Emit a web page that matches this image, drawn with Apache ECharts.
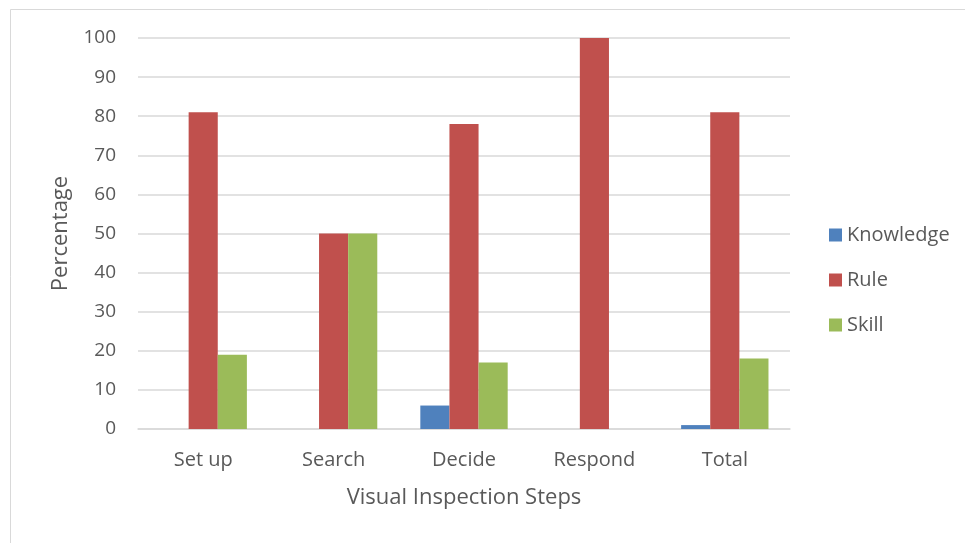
<!DOCTYPE html>
<html>
<head>
<meta charset="utf-8">
<script src="https://cdn.jsdelivr.net/npm/echarts@6/dist/echarts.min.js"></script>
<style>html,body{margin:0;padding:0;background:#fff;}#c{width:965px;height:543px;}</style>
</head>
<body>
<div id="c"></div>
<script>
const categories = ['Set up', 'Search', 'Decide', 'Respond', 'Total'];
const knowledge = [0, 0, 6, 0, 1];
const rule = [81, 50, 78, 100, 81];
const skill = [19, 50, 17, 0, 18];
const yTicks = { min: 0, max: 100, interval: 10 };

const chart = echarts.init(document.getElementById('c'), null, { renderer: 'canvas' });
const font = '"Open Sans", "Noto Sans", sans-serif';
const barStyle = c => ({ color: c });
chart.setOption({
  animation: false,
  backgroundColor: '#fff',
  textStyle: { fontFamily: font },
  graphic: [{
    type: 'rect', silent: true,
    shape: { x: 10.5, y: 9.5, width: 1000, height: 600 },
    style: { fill: 'none', stroke: '#d9d9d9', lineWidth: 1 }
  }],
  grid: { left: 138, right: 175, top: 38, bottom: 114 },
  legend: {
    orient: 'vertical', left: 824, top: 220,
    itemWidth: 13, itemHeight: 13, itemGap: 25,
    icon: 'rect',
    textStyle: { color: '#595959', fontSize: 20, fontFamily: font },
    data: ['Knowledge', 'Rule', 'Skill']
  },
  xAxis: {
    type: 'category', data: categories,
    name: 'Visual Inspection Steps', nameLocation: 'middle', nameGap: 58,
    nameTextStyle: { color: '#595959', fontSize: 22, fontFamily: font },
    axisLine: { lineStyle: { color: '#d9d9d9', width: 1.5 } },
    axisTick: { show: false },
    axisLabel: { color: '#595959', fontSize: 20, margin: 21, fontFamily: font }
  },
  yAxis: {
    type: 'value', min: yTicks.min, max: yTicks.max, interval: yTicks.interval,
    name: 'Percentage', nameLocation: 'middle', nameGap: 66,
    nameTextStyle: { color: '#595959', fontSize: 22, fontFamily: font },
    axisLine: { show: false }, axisTick: { show: false },
    axisLabel: { color: '#595959', fontSize: 19, margin: 22, fontFamily: font },
    splitLine: { lineStyle: { color: '#d9d9d9', width: 1.5 } }
  },
  series: [
    { name: 'Knowledge', type: 'bar', data: knowledge, barGap: '0%', barCategoryGap: '33%', itemStyle: barStyle('#4F81BD') },
    { name: 'Rule', type: 'bar', data: rule, barGap: '0%', barCategoryGap: '33%', itemStyle: barStyle('#C0504D') },
    { name: 'Skill', type: 'bar', data: skill, barGap: '0%', barCategoryGap: '33%', itemStyle: barStyle('#9BBB59') }
  ]
});
</script>
</body>
</html>
